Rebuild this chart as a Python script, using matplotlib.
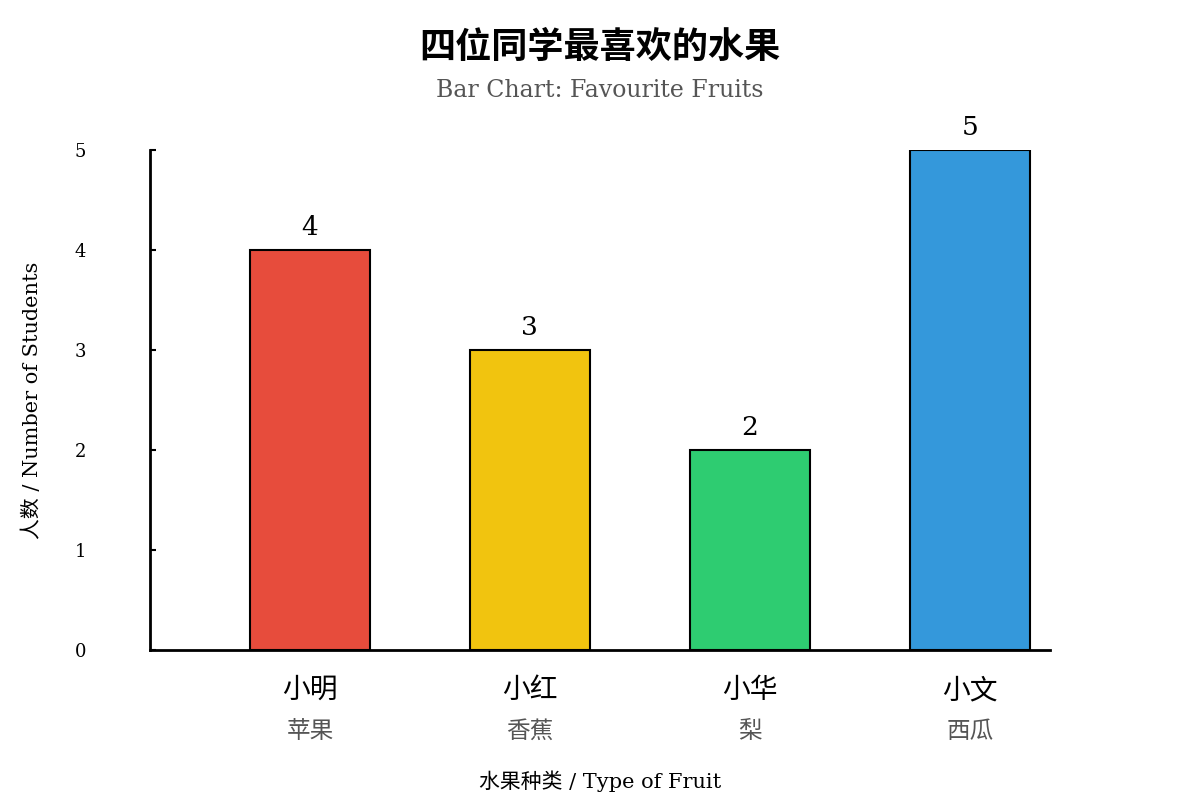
import matplotlib.pyplot as plt

# data
students = ['小明', '小红', '小华', '小文']
fruits = ['苹果', '香蕉', '梨', '西瓜']
counts = [4, 3, 2, 5]
colors = ['#E74C3C', '#F1C40F', '#2ECC71', '#3498DB']

plt.rcParams['font.family'] = ['DejaVu Serif', 'Noto Sans CJK SC']

fig = plt.figure(figsize=(12, 8), dpi=100)
ax = fig.add_axes([0.125, 0.1875, 0.75, 0.625])

x = list(range(len(students)))
bars = ax.bar(x, counts, width=0.545, color=colors, edgecolor='black', linewidth=1.5)

for xi, c in zip(x, counts):
    ax.text(xi, c + 0.1, str(c), ha='center', va='bottom', fontsize=19)

ax.set_xlim(-0.727, 3.364)
ax.set_ylim(0, 5)
ax.set_yticks(range(6))
ax.set_xticks([])
ax.tick_params(axis='y', direction='in', length=4, width=1.5, pad=50, labelsize=13)
for lbl in ax.get_yticklabels():
    lbl.set_horizontalalignment('center')

for s in ['top', 'right']:
    ax.spines[s].set_visible(False)
ax.spines['left'].set_linewidth(2)
ax.spines['bottom'].set_linewidth(2)

tr = ax.get_xaxis_transform()
for xi, name, fruit in zip(x, students, fruits):
    ax.text(xi, -0.08, name, transform=tr, ha='center', va='center', fontsize=20,
            family=['Noto Sans CJK SC'])
    ax.text(xi, -0.162, fruit, transform=tr, ha='center', va='center', fontsize=17,
            color='#555555', family=['Noto Sans CJK SC'])

ax.text(0.5, -0.262, '水果种类 / Type of Fruit', transform=ax.transAxes, ha='center',
        va='center', fontsize=15)
ax.set_ylabel('人数 / Number of Students', fontsize=15)
ax.yaxis.set_label_coords(-0.12, 0.5)

fig.text(0.5, 0.941, '四位同学最喜欢的水果', ha='center', va='center', fontsize=26,
         fontweight='bold', family=['Noto Sans CJK SC'])
fig.text(0.5, 0.887, 'Bar Chart: Favourite Fruits', ha='center', va='center',
         fontsize=17, color='#555555')

fig.savefig('out.png', dpi=100, facecolor='white')
